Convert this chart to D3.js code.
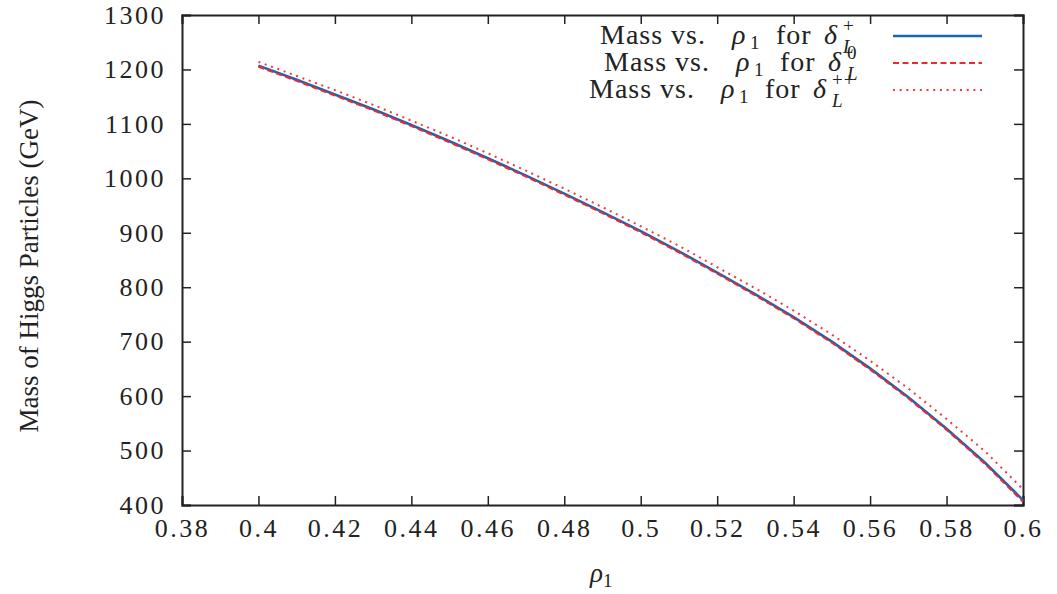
<!DOCTYPE html>
<html>
<head>
<meta charset="utf-8">
<script src="https://cdn.jsdelivr.net/npm/d3@7"></script>
<style>
  body { margin: 0; background: #fff; }
  text { font-family: "Liberation Serif", "Times New Roman", serif; fill: #222; }
</style>
</head>
<body>
<div id="chart"></div>
<script>
const WIDTH = 1057
const HEIGHT = 594

// data
const rho = [0.40, 0.41, 0.42, 0.43, 0.44, 0.45, 0.46, 0.47, 0.48, 0.49, 0.50,
             0.51, 0.52, 0.53, 0.54, 0.55, 0.56, 0.57, 0.58, 0.59, 0.60]
const massPlus = [1207, 1181, 1154, 1127, 1098, 1068, 1037, 1005, 972, 938, 903,
                  866, 827, 787, 745, 700, 651, 598, 540, 478, 409]
const massZero = [1205, 1179, 1152, 1125, 1096, 1066, 1035, 1003, 970, 936, 901,
                  864, 825, 785, 743, 698, 649, 596, 538, 476, 406]
const massPlusPlus = [1214, 1188, 1162, 1135, 1106, 1077, 1046, 1014, 981, 947, 912,
                      876, 837, 798, 757, 713, 665, 614, 558, 499, 429]
const xTicks = [0.38, 0.4, 0.42, 0.44, 0.46, 0.48, 0.5, 0.52, 0.54, 0.56, 0.58, 0.6]
const yTicks = [400, 500, 600, 700, 800, 900, 1000, 1100, 1200, 1300]
const seriesNames = ["+", "0", "++"]

const margin = {left: 182, right: 34, top: 15, bottom: 89}

const svg = d3.select("#chart")
  .append("svg")
  .attr("width", WIDTH)
  .attr("height", HEIGHT)

const x = d3.scaleLinear()
  .domain([0.38, 0.6])
  .range([margin.left, WIDTH - margin.right])

const y = d3.scaleLinear()
  .domain([400, 1300])
  .range([HEIGHT - margin.bottom, margin.top])

const tickLen = 9
const fmt = v => String(+v.toFixed(2))

// axes with inward ticks on all four sides
const axisG = svg.append("g").attr("class", "axes")

axisG.append("g")
  .attr("transform", `translate(0,${y(400)})`)
  .call(d3.axisBottom(x).tickValues(xTicks).tickSize(-tickLen).tickFormat(fmt).tickPadding(14))
axisG.append("g")
  .attr("transform", `translate(0,${y(1300)})`)
  .call(d3.axisTop(x).tickValues(xTicks).tickSize(-tickLen).tickFormat(""))
axisG.append("g")
  .attr("transform", `translate(${x(0.38)},0)`)
  .call(d3.axisLeft(y).tickValues(yTicks).tickSize(-tickLen).tickFormat(d3.format("d")).tickPadding(16))
axisG.append("g")
  .attr("transform", `translate(${x(0.6)},0)`)
  .call(d3.axisRight(y).tickValues(yTicks).tickSize(-tickLen).tickFormat(""))

axisG.selectAll(".domain").attr("stroke", "#222").attr("stroke-width", 2)
axisG.selectAll(".tick line").attr("stroke", "#222").attr("stroke-width", 1.5)
axisG.selectAll(".tick text")
  .attr("font-family", "Liberation Serif, serif")
  .attr("font-size", 26)
  .attr("letter-spacing", 2.5)
  .attr("fill", "#222")

// curves
const line = d3.line()
  .x((d, i) => x(rho[i]))
  .y(d => y(d))

const series = [
  {values: massPlus, color: "#1f63b0", width: 2.6, dash: null},
  {values: massZero, color: "#ea2a2f", width: 2, dash: "6,3.5"},
  {values: massPlusPlus, color: "#ee3a3e", width: 2, dash: "2,4.7"}
]

svg.append("g")
  .selectAll("path")
  .data(series)
  .join("path")
  .attr("d", d => line(d.values))
  .attr("fill", "none")
  .attr("stroke", d => d.color)
  .attr("stroke-width", d => d.width)
  .attr("stroke-dasharray", d => d.dash)

// legend, pieces placed like the LaTeX output
const legendStart = [600, 604, 589]
const legendY = [36, 63, 90]
const legend = svg.append("g").attr("class", "legend")

series.forEach((s, i) => {
  const x0 = legendStart[i]
  const base = legendY[i] + 8
  const piece = (dx, dy, size, txt, italic) => legend.append("text")
    .attr("x", x0 + dx)
    .attr("y", base + dy)
    .attr("font-size", size)
    .attr("letter-spacing", 1)
    .attr("font-style", italic ? "italic" : null)
    .text(txt)
  piece(0, 0, 28, "Mass vs.")
  piece(132, 0, 28, "ρ", true)
  piece(150, 5, 19, "1")
  piece(176, 0, 28, "for")
  piece(224, 0, 28, "δ", true)
  piece(243, -12, 19, seriesNames[i])
  piece(243, 9, 19, "L", true)

  legend.append("line")
    .attr("x1", 893).attr("x2", 982)
    .attr("y1", legendY[i]).attr("y2", legendY[i])
    .attr("stroke", s.color)
    .attr("stroke-width", s.width)
    .attr("stroke-dasharray", s.dash)
})

// axis titles
const xt = svg.append("text")
  .attr("x", 590)
  .attr("y", 582)
  .attr("font-size", 27)
xt.append("tspan").attr("font-style", "italic").text("ρ")
xt.append("tspan").attr("font-size", 19).attr("dy", 5).text("1")

svg.append("text")
  .attr("transform", `translate(38,${(y(400) + y(1300)) / 2 + 6}) rotate(-90)`)
  .attr("text-anchor", "middle")
  .attr("font-size", 27)
  .text("Mass of Higgs Particles (GeV)")
</script>
</body>
</html>
